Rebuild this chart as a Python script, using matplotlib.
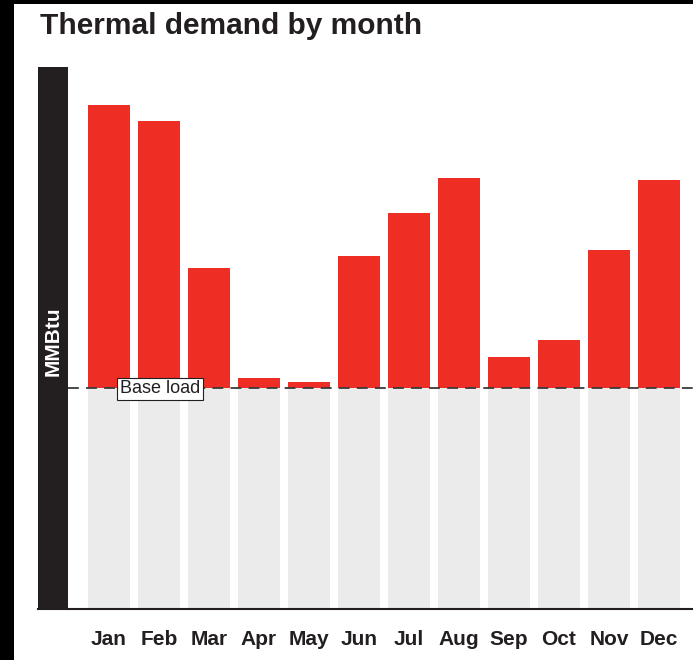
import matplotlib.pyplot as plt
from matplotlib.patches import Rectangle

months = ["Jan", "Feb", "Mar", "Apr", "May", "Jun",
          "Jul", "Aug", "Sep", "Oct", "Nov", "Dec"]
demand = [227.6, 220.4, 154.3, 104.5, 102.7, 159.7,
          179.2, 195.0, 114.0, 121.7, 162.4, 193.7]
base_load = 100
y_max = 245

W, H = 693, 660
fig = plt.figure(figsize=(W / 100, H / 100), dpi=100, facecolor="black")

# white sheet (image has a black margin left and top)
fig.patches.append(Rectangle((14 / W, 0), 1, 1 - 4 / H, transform=fig.transFigure,
                             facecolor="white", edgecolor="none", zorder=-10))

fig.text(40 / W, 1 - 26 / H, "Thermal demand by month", family="Liberation Sans",
         weight="bold", fontsize=21.5, color="#231f20", va="center", ha="left")

ax_bot, ax_top = 609, 67
ax = fig.add_axes([68 / W, 1 - ax_bot / H, (W - 68) / W, (ax_bot - ax_top) / H])
ax.set_facecolor("none")

x = range(len(months))
ax.bar(x, [base_load] * len(months), width=0.84, color="#ebebeb", zorder=1)
ax.bar(x, [v - base_load for v in demand], bottom=base_load, width=0.84,
       color="#ee2e24", zorder=2)
ax.axhline(base_load, color="#3a3a3a", lw=1.3, ls=(0, (6, 4)), zorder=3)
ax.text(1.02, base_load - 0.5, "Base load", family="Liberation Sans", fontsize=13,
        color="#231f20", ha="center", va="center", zorder=4,
        bbox=dict(boxstyle="square,pad=0.15", facecolor="white",
                  edgecolor="#231f20", lw=0.8))

ax.set_xlim((68 - 109) / 50, (W - 109) / 50)
ax.set_ylim(0, y_max)
ax.set_yticks([])
ax.set_xticks(list(x))
ax.set_xticklabels(months, family="Liberation Sans", weight="bold",
                   fontsize=15, color="#231f20")
ax.tick_params(axis="x", length=0, pad=15)
for s in ["top", "right", "left"]:
    ax.spines[s].set_visible(False)
ax.spines["bottom"].set_color("#231f20")
ax.spines["bottom"].set_linewidth(1.5)

# dark y-axis band with label
band = fig.add_axes([38 / W, 1 - ax_bot / H, 30 / W, (ax_bot - ax_top) / H])
band.set_facecolor("#231f20")
band.set_xticks([])
band.set_yticks([])
for s in band.spines.values():
    s.set_visible(False)
band.text(0.5, 1 - (341 - ax_top) / (ax_bot - ax_top), "MMBtu", rotation=90,
          transform=band.transAxes, color="white", family="Liberation Sans",
          weight="bold", fontsize=15, ha="center", va="center")
band.plot([0, 1], [0, 0], transform=band.transAxes, color="#231f20", lw=1.5,
          clip_on=False)

fig.savefig("out.png", dpi=100, facecolor=fig.get_facecolor())
